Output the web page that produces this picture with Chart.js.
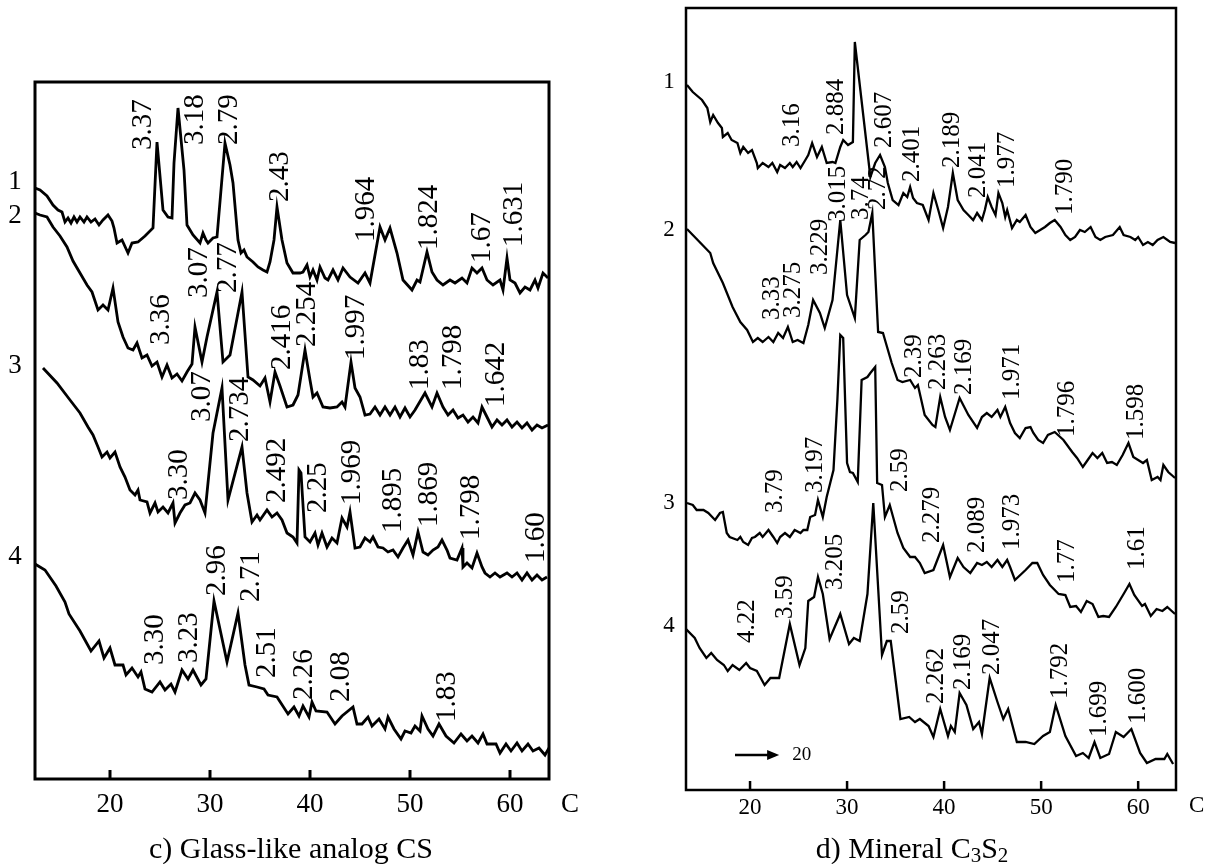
<!DOCTYPE html>
<html>
<head>
<meta charset="utf-8">
<script src="https://cdn.jsdelivr.net/npm/chart.js@4.4.1/dist/chart.umd.min.js"></script>
<style>
  body { margin: 0; background: #fff; }
  #wrap { position: relative; width: 1215px; height: 864px; }
  canvas { position: absolute; left: 0; top: 0; }
  .cap { position: absolute; font-family: 'Liberation Serif', serif; font-size: 30px; line-height: 1; color: #000; white-space: nowrap; transform: translate(-50%, -50%); }
  .cap sub { font-size: 0.7em; vertical-align: -0.2em; line-height: 0; }
</style>
</head>
<body>
<div id="wrap">
  <canvas id="glassCan" width="1215" height="864"></canvas>
  <canvas id="mineralCan" width="1215" height="864"></canvas>
  <div class="cap" style="left:291px;top:848px">c) Glass-like analog CS</div>
  <div class="cap" style="left:912px;top:848px">d) Mineral C<sub>3</sub>S<sub>2</sub></div>
</div>
<script>
// 2theta ticks
const xTicks = [20, 30, 40, 50, 60]

// c) glass-like analog CS, curves 1..4  [2theta, intensity a.u.]
const glass1 = [[12.5,588],[13.0,586],[13.7,580],[14.3,571],[14.8,566],[15.2,564],[15.5,554],[15.8,558],[16.1,553],[16.4,559],[16.7,554],[17.0,559],[17.4,554],[17.7,559],[18.1,554],[18.5,557],[18.9,551],[19.3,556],[19.8,561],[20.2,555],[20.4,548],[20.7,533],[21.2,536],[21.8,523],[22.2,533],[22.8,534],[23.5,540],[24.3,548],[24.7,634],[25.3,566],[25.8,559],[26.2,558],[26.4,613],[26.8,668],[27.4,606],[27.7,551],[28.3,541],[29.0,533],[29.3,543],[29.6,536],[29.8,533],[30.3,538],[30.7,539],[31.5,633],[32.0,611],[32.3,593],[32.8,536],[33.1,523],[33.4,526],[33.7,519],[34.3,514],[34.8,509],[35.3,506],[35.7,504],[36.0,514],[36.4,536],[36.7,569],[37.2,536],[37.7,513],[38.3,503],[39.0,503],[39.3,504],[39.7,511],[40.0,499],[40.3,506],[40.7,496],[41.0,509],[41.5,498],[41.8,496],[42.3,506],[42.8,496],[43.3,508],[44.0,499],[44.8,493],[45.5,503],[46.0,493],[47.0,549],[47.5,536],[48.0,548],[48.7,523],[49.3,496],[50.2,486],[50.7,496],[51.0,494],[51.7,524],[52.2,504],[52.7,496],[53.3,491],[54.0,496],[54.5,493],[55.2,498],[55.7,493],[56.2,508],[56.7,503],[57.2,508],[57.7,496],[58.3,491],[59.0,496],[59.3,486],[59.7,518],[60.0,496],[60.5,493],[61.0,483],[61.5,489],[62.0,486],[62.5,496],[62.8,488],[63.3,503],[63.8,498]]
const glass2 = [[12.5,563],[13.0,561],[13.7,559],[14.3,549],[15.0,540],[15.7,529],[16.3,515],[17.0,503],[17.7,491],[18.2,484],[18.8,466],[19.3,471],[19.8,466],[20.3,488],[20.8,454],[21.3,439],[21.8,428],[22.3,426],[22.7,433],[23.2,418],[23.7,421],[24.2,410],[24.7,414],[25.2,399],[25.7,411],[26.2,398],[26.7,402],[27.2,395],[27.7,404],[28.2,412],[28.5,449],[29.2,414],[29.7,439],[30.7,484],[31.3,414],[32.0,421],[33.2,484],[33.8,399],[34.3,396],[35.0,390],[35.5,398],[36.0,374],[36.5,404],[37.0,390],[37.7,369],[38.3,371],[38.8,381],[39.5,426],[40.0,396],[40.3,379],[40.7,383],[41.3,369],[42.0,368],[42.7,369],[43.2,374],[43.5,369],[44.1,414],[44.5,388],[45.0,379],[45.5,361],[46.0,362],[46.5,369],[47.0,361],[47.5,369],[48.0,361],[48.5,369],[49.0,359],[49.5,368],[50.0,359],[50.5,366],[51.5,383],[52.2,369],[52.7,383],[53.3,369],[53.8,361],[54.3,366],[54.8,358],[55.3,361],[55.8,354],[56.3,359],[56.8,353],[57.2,369],[57.7,359],[58.2,349],[58.7,356],[59.2,351],[59.7,356],[60.2,349],[60.7,354],[61.2,348],[61.7,353],[62.2,346],[62.7,351],[63.2,348],[63.8,351]]
const glass3 = [[13.3,408],[14.7,393],[16.0,376],[17.0,363],[17.8,349],[18.3,341],[18.8,329],[19.2,319],[19.7,324],[20.0,318],[20.5,324],[21.0,309],[21.5,299],[22.0,286],[22.5,281],[22.8,286],[23.0,276],[23.7,274],[24.0,263],[24.5,273],[24.8,264],[25.3,269],[25.8,263],[26.3,273],[26.5,253],[27.0,263],[27.5,271],[28.0,273],[28.5,283],[29.0,276],[29.5,263],[30.3,343],[31.2,388],[31.8,276],[33.2,329],[33.7,283],[34.2,254],[34.7,261],[35.0,256],[35.7,266],[36.2,259],[36.7,263],[37.2,256],[37.7,243],[38.3,239],[38.7,233],[38.9,306],[39.1,303],[39.5,239],[40.0,234],[40.5,243],[40.8,231],[41.2,243],[41.7,229],[42.2,238],[42.7,233],[43.2,258],[43.7,249],[44.0,264],[44.5,228],[45.0,229],[45.5,238],[46.0,234],[46.3,239],[46.8,229],[47.3,228],[47.8,224],[48.3,226],[48.8,219],[49.3,228],[49.8,236],[50.3,221],[50.8,244],[51.3,224],[51.8,221],[52.3,226],[52.8,229],[53.2,236],[53.7,226],[54.0,218],[54.7,216],[55.2,228],[55.3,209],[55.7,213],[56.2,208],[56.7,223],[57.2,209],[57.5,203],[58.0,199],[58.5,203],[59.0,199],[59.7,203],[60.2,199],[60.7,203],[61.2,196],[61.7,203],[62.2,196],[62.7,201],[63.2,196],[63.7,199]]
const glass4 = [[12.5,212],[13.5,206],[14.6,190],[15.5,174],[15.9,162],[17.0,145],[18.1,125],[18.9,135],[19.4,118],[20.0,128],[20.5,111],[21.3,111],[21.6,101],[22.2,108],[22.8,99],[23.1,104],[23.5,87],[24.2,84],[25.0,94],[25.5,86],[26.1,92],[26.5,84],[27.2,106],[27.8,97],[28.3,106],[29.1,91],[29.6,97],[30.4,175],[31.7,114],[32.8,163],[33.5,111],[33.9,91],[34.7,89],[35.4,87],[35.8,81],[36.7,79],[37.8,62],[38.4,69],[38.9,60],[39.3,70],[39.9,59],[40.2,74],[40.6,65],[41.7,64],[42.5,52],[43.2,60],[44.3,69],[44.7,52],[45.2,52],[45.8,59],[46.2,50],[46.9,57],[47.5,47],[47.8,59],[48.4,47],[49.1,37],[49.5,45],[50.1,43],[50.5,50],[51.0,45],[51.2,60],[51.8,47],[52.3,40],[52.9,52],[53.6,40],[54.4,33],[55.1,42],[55.7,35],[56.2,40],[56.8,33],[57.3,42],[57.7,32],[58.6,32],[59.0,23],[59.6,32],[60.1,25],[60.7,33],[61.2,25],[61.8,32],[62.3,25],[62.9,28],[63.5,21],[63.9,28]]

// d-spacing labels  [text, 2theta, intensity at label foot]
const glassPeaks = [
  ['3.37',23.3,626],['3.18',28.5,631],['2.79',31.9,631],['2.43',37.0,574],['1.964',45.6,534],['1.824',51.9,526],['1.67',57.2,513],['1.631',60.4,529],
  ['3.36',25.1,431],['3.07',28.9,478],['2.77',31.8,483],['2.416',37.2,406],['2.254',39.7,429],['1.997',44.6,416],['1.83',51.0,386],['1.798',54.3,386],['1.642',58.6,369],
  ['3.30',26.9,276],['3.07',29.2,354],['2.734',33.0,334],['2.492',36.7,273],['2.25',40.8,263],['1.969',44.2,271],['1.895',48.3,243],['1.869',51.9,249],['1.798',56.1,236],['1.60',62.6,213],
  ['3.30',24.5,111],['3.23',27.9,113],['2.96',30.7,180],['2.71',34.1,174],['2.51',35.7,98],['2.26',39.4,76],['2.08',43.1,74],['1.83',53.7,54]
]
const glassCurveNo = [['1',594],['2',560],['3',410],['4',219]]

// d) mineral C3S2, curves 1..4
const mineral1 = [[13.5,703],[14.1,696],[15.05,688],[15.6,680],[15.9,666],[16.2,673],[16.7,665],[17.1,660],[17.2,651],[17.7,655],[18.1,648],[18.7,645],[19.0,635],[19.3,641],[19.8,635],[20.2,638],[20.7,625],[20.8,620],[21.3,625],[21.9,621],[22.3,625],[22.8,616],[23.1,623],[23.6,620],[24.1,625],[24.4,621],[24.8,626],[25.2,620],[25.7,628],[26.0,633],[26.4,645],[26.9,631],[27.4,641],[27.9,625],[28.5,626],[28.8,625],[29.3,641],[29.6,648],[30.1,643],[30.6,646],[30.8,746],[32.4,611],[32.9,625],[33.4,633],[33.9,621],[34.2,605],[34.7,588],[35.3,583],[35.8,595],[36.2,591],[36.5,601],[36.8,590],[37.2,585],[37.8,583],[38.4,568],[38.9,595],[39.4,578],[39.9,560],[40.4,581],[40.9,615],[41.4,588],[42.0,578],[42.5,573],[43.0,568],[43.4,575],[43.9,568],[44.2,578],[44.5,591],[44.9,581],[45.3,573],[45.6,595],[46.0,585],[46.3,571],[46.5,578],[47.0,560],[47.5,568],[47.8,566],[48.4,573],[48.9,561],[49.4,555],[49.9,558],[50.4,561],[50.9,565],[51.4,568],[52.0,561],[52.5,553],[53.0,548],[53.5,551],[54.0,558],[54.5,556],[55.1,561],[55.6,551],[56.1,548],[56.6,551],[57.4,553],[58.1,561],[58.5,553],[59.2,551],[59.7,548],[60.0,551],[60.5,543],[61.0,546],[61.5,543],[62.0,548],[62.6,551],[63.3,546],[63.8,545]]
const mineral2 = [[13.5,559],[14.6,548],[15.9,535],[16.2,525],[17.2,505],[18.2,481],[19.0,466],[19.7,458],[20.3,446],[20.8,450],[21.3,446],[21.9,451],[22.4,446],[22.9,455],[23.4,450],[23.9,461],[24.4,446],[24.9,448],[25.5,445],[26.0,463],[26.5,488],[27.2,475],[27.7,460],[28.5,488],[29.3,568],[30.0,493],[30.8,470],[31.3,548],[31.9,553],[32.2,556],[32.6,575],[33.2,456],[33.7,455],[34.6,425],[35.2,408],[35.7,406],[36.5,408],[37.0,400],[37.3,403],[38.0,373],[38.8,363],[39.1,361],[39.6,391],[40.1,371],[40.6,358],[41.6,390],[42.5,373],[43.4,360],[43.9,371],[44.4,375],[44.9,371],[45.5,378],[45.8,371],[46.3,381],[46.8,365],[47.3,355],[47.8,350],[48.4,360],[48.9,361],[49.2,355],[49.7,348],[50.2,345],[50.7,353],[51.4,356],[52.3,348],[53.2,336],[53.7,330],[54.3,321],[54.8,328],[55.3,335],[55.8,330],[56.3,335],[56.8,325],[57.3,326],[57.8,323],[58.4,333],[59.0,345],[59.5,331],[60.0,328],[60.5,325],[60.9,328],[61.4,308],[62.0,311],[62.3,308],[62.6,323],[63.1,316],[63.8,310]]
const mineral3 = [[13.5,285],[14.1,283],[14.5,278],[15.2,278],[15.7,275],[16.1,271],[16.4,268],[16.9,275],[17.2,276],[17.6,255],[17.9,251],[18.7,248],[19.0,251],[19.3,246],[19.8,243],[20.2,250],[20.5,251],[21.0,255],[21.3,251],[21.9,258],[22.4,251],[22.8,245],[23.1,251],[23.6,255],[24.1,251],[24.6,258],[25.2,255],[25.5,258],[25.9,258],[26.2,271],[26.7,273],[27.0,288],[27.5,271],[27.9,291],[28.6,318],[29.0,388],[29.3,453],[29.6,450],[30.0,325],[30.3,316],[30.6,315],[31.1,306],[31.5,408],[32.1,411],[32.4,415],[32.9,421],[33.1,305],[33.6,303],[33.9,271],[34.4,283],[35.2,255],[35.8,240],[36.5,231],[37.0,231],[37.5,225],[38.0,215],[38.9,218],[39.9,243],[40.6,211],[41.4,230],[42.0,221],[42.7,215],[43.4,225],[43.9,223],[44.4,226],[44.9,221],[45.5,228],[46.0,221],[46.5,228],[46.8,221],[47.3,208],[48.4,218],[49.1,225],[49.6,225],[50.2,213],[50.9,203],[51.8,194],[52.5,193],[53.0,181],[53.6,182],[54.1,176],[54.7,187],[55.3,184],[55.9,171],[56.4,172],[57.0,171],[57.7,181],[58.5,194],[59.1,204],[59.6,193],[60.4,182],[60.7,184],[61.3,172],[61.9,179],[62.5,177],[63.0,181],[63.8,174]]
const mineral4 = [[13.4,159],[14.3,150],[14.8,140],[15.5,130],[16.0,135],[16.6,128],[17.3,123],[17.7,117],[18.2,123],[18.9,118],[19.6,125],[20.0,120],[20.7,117],[21.5,103],[22.1,110],[23.0,110],[24.1,164],[25.1,123],[25.7,140],[26.0,187],[26.6,191],[27.0,211],[27.5,194],[28.2,149],[29.3,174],[30.2,144],[30.7,150],[31.3,147],[32.1,194],[32.7,285],[33.6,133],[34.1,147],[34.5,147],[35.5,69],[36.4,71],[37.0,66],[37.5,69],[38.4,62],[38.9,51],[39.6,79],[40.4,52],[40.7,62],[41.1,56],[41.6,95],[42.3,83],[43.0,59],[43.6,66],[43.9,54],[44.7,110],[45.5,86],[46.1,69],[46.6,79],[47.5,46],[48.4,46],[49.3,44],[50.2,52],[50.9,56],[51.5,83],[52.5,52],[53.6,32],[54.3,35],[54.9,30],[55.5,46],[56.1,30],[57.0,34],[57.7,56],[58.5,51],[59.3,59],[60.2,35],[60.9,25],[61.8,29],[62.7,29],[63.0,34],[63.6,24]]

const mineralPeaks = [
  ['3.16',24.4,641],['2.884',28.9,653],['2.607',33.8,640],['2.401',36.7,606],['2.189',40.9,620],['2.041',43.5,590],['1.977',46.5,600],['1.790',52.5,573],
  ['3.33',22.3,468],['3.275',24.5,470],['3.229',27.3,513],['3.015',29.1,566],['3.74',31.5,568],['2.72',33.2,578],['2.39',36.9,410],['2.263',39.4,398],['2.169',42.1,393],['1.971',47.0,388],['1.796',52.7,351],['1.598',59.8,348],
  ['3.79',22.6,275],['3.197',26.7,295],['2.59',35.5,296],['2.279',38.8,245],['2.089',43.4,235],['1.973',47.0,238],['1.77',52.7,205],['1.61',59.9,218],
  ['4.22',19.7,145],['3.59',23.6,169],['3.205',28.8,198],['2.59',35.6,154],['2.262',39.2,84],['2.169',42.0,98],['2.047',45.0,113],['1.792',52.0,89],['1.699',56.0,51],['1.600',60.0,64]
]
const mineralCurveNo = [['1',706],['2',558],['3',285],['4',162]]
// scan direction arrow: from, to, y, label
const scanArrow = [18.45, 23.0, 33, '20']

function decor (cfg) {
  return {
    id: 'decor',
    afterDatasetsDraw (chart) {
      const { ctx, chartArea: a, scales: { x, y } } = chart
      ctx.save()
      ctx.strokeStyle = '#000'
      ctx.fillStyle = '#000'
      ctx.lineWidth = cfg.box
      ctx.strokeRect(a.left, a.top, a.right - a.left, a.bottom - a.top)
      xTicks.forEach(v => {
        const px = x.getPixelForValue(v)
        ctx.beginPath()
        ctx.moveTo(px, a.bottom)
        ctx.lineTo(px, a.bottom - cfg.tick)
        ctx.stroke()
      })
      ctx.font = cfg.labelSize + 'px "Liberation Serif"'
      ctx.textAlign = 'left'
      ctx.textBaseline = 'middle'
      cfg.peaks.forEach(([t, xv, yv]) => {
        ctx.save()
        ctx.translate(x.getPixelForValue(xv), y.getPixelForValue(yv))
        ctx.rotate(-Math.PI / 2)
        ctx.fillText(t, 0, 0)
        ctx.restore()
      })
      ctx.font = cfg.numSize + 'px "Liberation Serif"'
      ctx.textAlign = 'center'
      cfg.numbers.forEach(([t, yv]) => ctx.fillText(t, a.left - cfg.numGap, y.getPixelForValue(yv)))
      ctx.font = cfg.tickSize + 'px "Liberation Serif"'
      ctx.textAlign = 'left'
      ctx.fillText('C', a.right + cfg.cGap, a.bottom + cfg.cDrop)
      if (cfg.arrow) {
        const [x0, x1, yv, t] = cfg.arrow
        const p0 = x.getPixelForValue(x0), p1 = x.getPixelForValue(x1), py = y.getPixelForValue(yv)
        ctx.lineWidth = 2.5
        ctx.beginPath()
        ctx.moveTo(p0, py)
        ctx.lineTo(p1 - 8, py)
        ctx.stroke()
        ctx.beginPath()
        ctx.moveTo(p1, py)
        ctx.lineTo(p1 - 12, py - 5)
        ctx.lineTo(p1 - 12, py + 5)
        ctx.closePath()
        ctx.fill()
        ctx.font = '19px "Liberation Serif"'
        ctx.fillText(t, p1 + 13, py)
      }
      ctx.restore()
    }
  }
}

function makeChart (el, sets, opt) {
  return new Chart(el, {
    type: 'line',
    data: {
      datasets: sets.map(d => ({
        data: d.map(([x, y]) => ({ x, y })),
        borderColor: '#000',
        borderWidth: opt.line,
        pointRadius: 0,
        tension: 0,
        fill: false
      }))
    },
    options: {
      responsive: false,
      animation: false,
      events: [],
      layout: { padding: opt.pad },
      plugins: { legend: { display: false }, tooltip: { enabled: false } },
      scales: {
        x: {
          type: 'linear',
          min: opt.xMin,
          max: opt.xMax,
          grid: { display: false, drawTicks: false },
          border: { display: false },
          afterBuildTicks: s => { s.ticks = xTicks.map(v => ({ value: v })) },
          afterFit: s => { s.height = opt.axisH },
          ticks: { color: '#000', padding: opt.tickPad, maxRotation: 0, font: { family: 'Liberation Serif', size: opt.deco.tickSize } }
        },
        y: { display: false, min: opt.yMin, max: opt.yMax }
      }
    },
    plugins: [decor(opt.deco)]
  })
}

makeChart(document.getElementById('glassCan'), [glass1, glass2, glass3, glass4], {
  line: 2.8, pad: { left: 35, right: 666, top: 82, bottom: 0 }, axisH: 85, tickPad: 10,
  xMin: 12.5, xMax: 63.9, yMin: -3, yMax: 694,
  deco: { box: 3, tick: 9, labelSize: 29, numSize: 27, tickSize: 27, numGap: 20, cGap: 12, cDrop: 26, peaks: glassPeaks, numbers: glassCurveNo }
})

makeChart(document.getElementById('mineralCan'), [mineral1, mineral2, mineral3, mineral4], {
  line: 2.3, pad: { left: 686, right: 39, top: 8, bottom: 0 }, axisH: 74, tickPad: 4,
  xMin: 13.4, xMax: 63.9, yMin: -2, yMax: 780,
  deco: { box: 2.5, tick: 9, labelSize: 25, numSize: 23, tickSize: 23, numGap: 17, cGap: 13, cDrop: 16, peaks: mineralPeaks, numbers: mineralCurveNo, arrow: scanArrow }
})
</script>
</body>
</html>
